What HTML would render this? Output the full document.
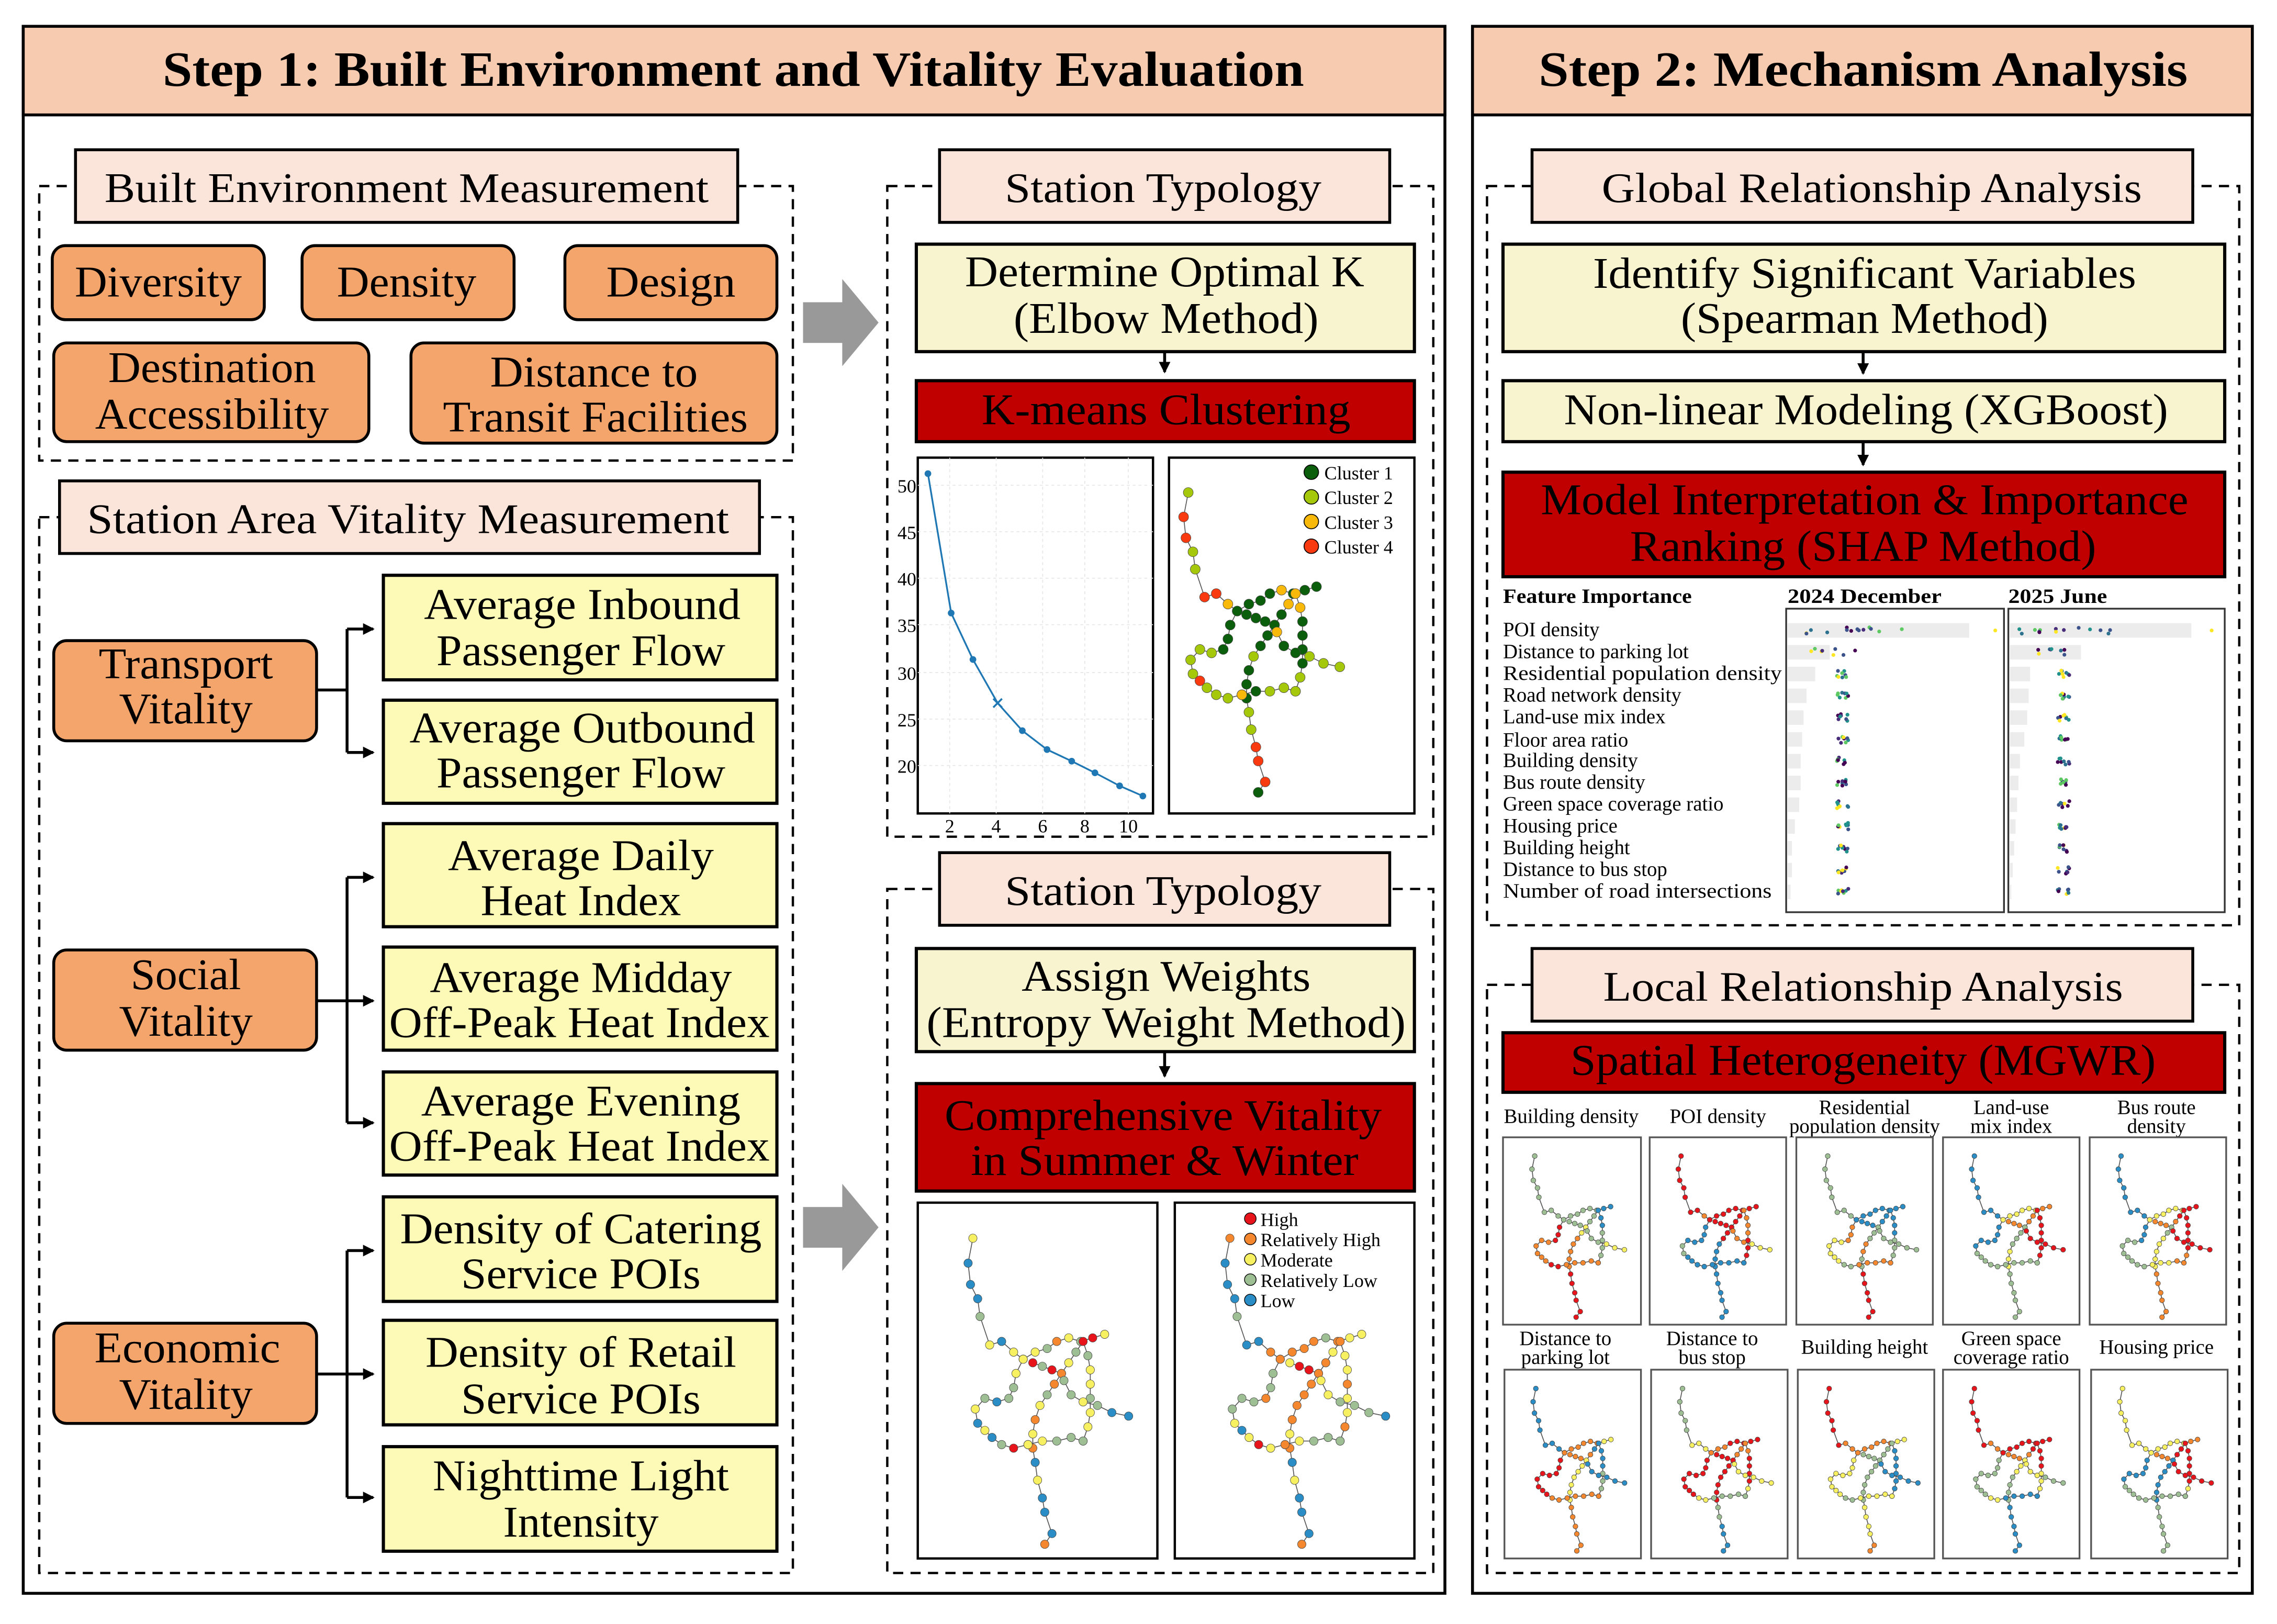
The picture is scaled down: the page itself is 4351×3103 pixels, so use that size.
<!DOCTYPE html>
<html><head><meta charset="utf-8">
<style>html,body{margin:0;padding:0;background:#fff}svg{display:block}
text{font-family:"Liberation Serif",serif;fill:#000}</style></head>
<body>
<svg id="s" xmlns="http://www.w3.org/2000/svg" width="4351" height="3103" viewBox="0 0 1568 1118">
<defs>
<marker id="ah" markerWidth="8" markerHeight="8" refX="7" refY="4" orient="auto" markerUnits="userSpaceOnUse"><path d="M0,0 L8,4 L0,8 z" fill="#000"/></marker>
</defs>
<rect width="1568" height="1118" fill="#fff"/>
<rect x="16" y="18" width="979" height="1079" fill="#fff" stroke="#000" stroke-width="2"/>
<rect x="16" y="18" width="979" height="61" fill="#f7cbb0" stroke="#000" stroke-width="2"/>
<text x="505" y="59" text-anchor="middle" font-size="34" font-weight="bold" textLength="786" lengthAdjust="spacingAndGlyphs">Step 1: Built Environment and Vitality Evaluation</text>
<rect x="1014" y="18" width="537" height="1079" fill="#fff" stroke="#000" stroke-width="2"/>
<rect x="1014" y="18" width="537" height="61" fill="#f7cbb0" stroke="#000" stroke-width="2"/>
<text x="1283" y="59" text-anchor="middle" font-size="34" font-weight="bold" textLength="447" lengthAdjust="spacingAndGlyphs">Step 2: Mechanism Analysis</text>

<g fill="none" stroke="#000" stroke-width="1.6" stroke-dasharray="7,5">
<rect x="27" y="128" width="519" height="189"/>
<rect x="27" y="356" width="519" height="727"/>
<rect x="611" y="128" width="376" height="448"/>
<rect x="611" y="612" width="376" height="471"/>
<rect x="1024" y="128" width="518" height="509"/>
<rect x="1024" y="678" width="518" height="405"/>
</g>
<g fill="#fbe4da" stroke="#000" stroke-width="2">
<rect x="52" y="103" width="456" height="50"/>
<rect x="41" y="331" width="482" height="50"/>
<rect x="647" y="103" width="310" height="50"/>
<rect x="647" y="587" width="310" height="50"/>
<rect x="1055" y="103" width="455" height="50"/>
<rect x="1055" y="653" width="455" height="50"/>
</g>
<g font-size="29" text-anchor="middle">
<text x="280" y="139" textLength="416" lengthAdjust="spacingAndGlyphs">Built Environment Measurement</text>
<text x="281" y="367" textLength="442" lengthAdjust="spacingAndGlyphs">Station Area Vitality Measurement</text>
<text x="801" y="139" textLength="218" lengthAdjust="spacingAndGlyphs">Station Typology</text>
<text x="801" y="623" textLength="218" lengthAdjust="spacingAndGlyphs">Station Typology</text>
<text x="1289" y="139" textLength="372" lengthAdjust="spacingAndGlyphs">Global Relationship Analysis</text>
<text x="1283" y="689" textLength="358" lengthAdjust="spacingAndGlyphs">Local Relationship Analysis</text>
</g>

<g fill="#f3a56c" stroke="#000" stroke-width="2">
<rect x="36" y="169" width="146" height="51" rx="9"/>
<rect x="208" y="169" width="146" height="51" rx="9"/>
<rect x="389" y="169" width="146" height="51" rx="9"/>
<rect x="37" y="236" width="217" height="68" rx="9"/>
<rect x="283" y="236" width="252" height="69" rx="9"/>
<rect x="37" y="441" width="181" height="69" rx="9"/>
<rect x="37" y="654" width="181" height="69" rx="9"/>
<rect x="37" y="911" width="181" height="69" rx="9"/>
</g>
<g font-size="30" text-anchor="middle">
<text x="109" y="204" textLength="115" lengthAdjust="spacingAndGlyphs">Diversity</text>
<text x="280" y="204" textLength="96" lengthAdjust="spacingAndGlyphs">Density</text>
<text x="462" y="204" textLength="89" lengthAdjust="spacingAndGlyphs">Design</text>
<text x="146" y="263" textLength="143" lengthAdjust="spacingAndGlyphs">Destination</text>
<text x="146" y="295" textLength="161" lengthAdjust="spacingAndGlyphs">Accessibility</text>
<text x="409" y="266" textLength="143" lengthAdjust="spacingAndGlyphs">Distance to</text>
<text x="410" y="297" textLength="210" lengthAdjust="spacingAndGlyphs">Transit Facilities</text>
<text x="128" y="467" textLength="120" lengthAdjust="spacingAndGlyphs">Transport</text>
<text x="128" y="498" textLength="92" lengthAdjust="spacingAndGlyphs">Vitality</text>
<text x="128" y="681" textLength="76" lengthAdjust="spacingAndGlyphs">Social</text>
<text x="128" y="713" textLength="92" lengthAdjust="spacingAndGlyphs">Vitality</text>
<text x="129" y="938" textLength="128" lengthAdjust="spacingAndGlyphs">Economic</text>
<text x="128" y="970" textLength="92" lengthAdjust="spacingAndGlyphs">Vitality</text>
</g>

<g fill="#fdf9b6" stroke="#000" stroke-width="2.2">
<rect x="264" y="396" width="271" height="72"/>
<rect x="264" y="482" width="271" height="71"/>
<rect x="264" y="567" width="271" height="71"/>
<rect x="264" y="652" width="271" height="71"/>
<rect x="264" y="738" width="271" height="71"/>
<rect x="264" y="824" width="271" height="72"/>
<rect x="264" y="909" width="271" height="72"/>
<rect x="264" y="996" width="271" height="72"/>
</g>
<g font-size="30" text-anchor="middle">
<text x="401" y="426" textLength="218" lengthAdjust="spacingAndGlyphs">Average Inbound</text>
<text x="400" y="458" textLength="199" lengthAdjust="spacingAndGlyphs">Passenger Flow</text>
<text x="401" y="511" textLength="238" lengthAdjust="spacingAndGlyphs">Average Outbound</text>
<text x="400" y="542" textLength="199" lengthAdjust="spacingAndGlyphs">Passenger Flow</text>
<text x="400" y="599" textLength="183" lengthAdjust="spacingAndGlyphs">Average Daily</text>
<text x="400" y="630" textLength="138" lengthAdjust="spacingAndGlyphs">Heat Index</text>
<text x="400" y="683" textLength="208" lengthAdjust="spacingAndGlyphs">Average Midday</text>
<text x="399" y="714" textLength="262" lengthAdjust="spacingAndGlyphs">Off-Peak Heat Index</text>
<text x="400" y="768" textLength="220" lengthAdjust="spacingAndGlyphs">Average Evening</text>
<text x="399" y="799" textLength="262" lengthAdjust="spacingAndGlyphs">Off-Peak Heat Index</text>
<text x="400" y="856" textLength="249" lengthAdjust="spacingAndGlyphs">Density of Catering</text>
<text x="400" y="887" textLength="165" lengthAdjust="spacingAndGlyphs">Service POIs</text>
<text x="400" y="941" textLength="214" lengthAdjust="spacingAndGlyphs">Density of Retail</text>
<text x="400" y="973" textLength="165" lengthAdjust="spacingAndGlyphs">Service POIs</text>
<text x="400" y="1026" textLength="204" lengthAdjust="spacingAndGlyphs">Nighttime Light</text>
<text x="400" y="1058" textLength="107" lengthAdjust="spacingAndGlyphs">Intensity</text>
</g>
<g fill="none" stroke="#000" stroke-width="2">
<path d="M218,475 H239"/><path d="M239,433 V518"/>
<path d="M239,433 H257" marker-end="url(#ah)"/><path d="M239,518 H257" marker-end="url(#ah)"/>
<path d="M218,689 H257" marker-end="url(#ah)"/><path d="M239,604 V773"/>
<path d="M239,604 H257" marker-end="url(#ah)"/><path d="M239,773 H257" marker-end="url(#ah)"/>
<path d="M218,946 H257" marker-end="url(#ah)"/><path d="M239,861 V1031"/>
<path d="M239,861 H257" marker-end="url(#ah)"/><path d="M239,1031 H257" marker-end="url(#ah)"/>
<path d="M802,242 V256" marker-end="url(#ah)"/>
<path d="M802,724 V741" marker-end="url(#ah)"/>
<path d="M1283,242 V257" marker-end="url(#ah)"/>
<path d="M1283,304 V320" marker-end="url(#ah)"/>
</g>
<path d="M553,208 H580 V192 L605,222 L580,252 V236 H553 Z" fill="#999"/>
<path d="M553,831 H580 V815 L605,845 L580,875 V859 H553 Z" fill="#999"/>

<g fill="#f9f4d0" stroke="#000" stroke-width="2.2">
<rect x="631" y="168" width="343" height="74"/>
<rect x="631" y="653" width="343" height="71"/>
<rect x="1035" y="168" width="497" height="74"/>
<rect x="1035" y="262" width="497" height="42"/>
</g>
<g fill="#c00000" stroke="#000" stroke-width="2.2">
<rect x="631" y="262" width="343" height="42"/>
<rect x="631" y="746" width="343" height="74"/>
<rect x="1035" y="325" width="497" height="72"/>
<rect x="1035" y="711" width="497" height="41"/>
</g>
<g font-size="30" text-anchor="middle">
<text x="802" y="197" textLength="275" lengthAdjust="spacingAndGlyphs">Determine Optimal K</text>
<text x="803" y="229" textLength="210" lengthAdjust="spacingAndGlyphs">(Elbow Method)</text>
<text x="803" y="682" textLength="199" lengthAdjust="spacingAndGlyphs">Assign Weights</text>
<text x="803" y="714" textLength="330" lengthAdjust="spacingAndGlyphs">(Entropy Weight Method)</text>
<text x="1284" y="198" textLength="374" lengthAdjust="spacingAndGlyphs">Identify Significant Variables</text>
<text x="1284" y="229" textLength="253" lengthAdjust="spacingAndGlyphs">(Spearman Method)</text>
<text x="1285" y="292" textLength="416" lengthAdjust="spacingAndGlyphs">Non-linear Modeling (XGBoost)</text>
</g>
<g font-size="30" text-anchor="middle" style="fill:#fff">
<text x="803" y="292" textLength="254" lengthAdjust="spacingAndGlyphs" fill="#fff">K-means Clustering</text>
<text x="801" y="778" textLength="301" lengthAdjust="spacingAndGlyphs" fill="#fff">Comprehensive Vitality</text>
<text x="802" y="809" textLength="267" lengthAdjust="spacingAndGlyphs" fill="#fff">in Summer &amp; Winter</text>
<text x="1284" y="354" textLength="446" lengthAdjust="spacingAndGlyphs" fill="#fff">Model Interpretation &amp; Importance</text>
<text x="1283" y="386" textLength="321" lengthAdjust="spacingAndGlyphs" fill="#fff">Ranking (SHAP Method)</text>
<text x="1283" y="740" textLength="403" lengthAdjust="spacingAndGlyphs" fill="#fff">Spatial Heterogeneity (MGWR)</text>
</g>

<rect x="632" y="315" width="162" height="245" fill="#fff" stroke="#000" stroke-width="1.6"/>
<g stroke="#e6e6e6" stroke-width="0.6" stroke-dasharray="2,2">
<path d="M632,334H794M632,366H794M632,398H794M632,430H794M632,463H794M632,495H794M632,527H794"/>
<path d="M654,315V560M686,315V560M718,315V560M747,315V560M777,315V560"/>
</g>
<g font-size="13" text-anchor="end">
<text x="631" y="339">50</text><text x="631" y="371">45</text><text x="631" y="403">40</text><text x="631" y="435">35</text><text x="631" y="468">30</text><text x="631" y="500">25</text><text x="631" y="532">20</text>
</g>
<g font-size="13" text-anchor="middle">
<text x="654" y="573">2</text><text x="686" y="573">4</text><text x="718" y="573">6</text><text x="747" y="573">8</text><text x="777" y="573">10</text>
</g>
<polyline fill="none" stroke="#1f77b4" stroke-width="1.2" points="639,326 655,422 670,454 687,484 704,503 721,516 738,524 754,532 771,541 787,548"/>
<g fill="#1f77b4"><circle cx="639" cy="326" r="2.3"/><circle cx="655" cy="422" r="2.3"/><circle cx="670" cy="454" r="2.3"/><circle cx="704" cy="503" r="2.3"/><circle cx="721" cy="516" r="2.3"/><circle cx="738" cy="524" r="2.3"/><circle cx="754" cy="532" r="2.3"/><circle cx="771" cy="541" r="2.3"/><circle cx="787" cy="548" r="2.3"/></g>
<path d="M684,481 L690,487 M690,481 L684,487" stroke="#1f77b4" stroke-width="1.3"/>

<g fill="#fff" stroke="#000" stroke-width="1.6">
<rect x="805" y="315" width="169" height="245"/>
<rect x="632" y="828" width="165" height="245"/>
<rect x="809" y="828" width="165" height="245"/>
</g>
<g id="maps"></g>
<g font-size="13">
<circle cx="903" cy="325" r="5" fill="#0b5e0b" stroke="#000" stroke-width="0.6"/><text x="912" y="330">Cluster 1</text>
<circle cx="903" cy="342" r="5" fill="#a6c80a" stroke="#000" stroke-width="0.6"/><text x="912" y="347">Cluster 2</text>
<circle cx="903" cy="359" r="5" fill="#f9b90b" stroke="#000" stroke-width="0.6"/><text x="912" y="364">Cluster 3</text>
<circle cx="903" cy="376" r="5" fill="#f93a10" stroke="#000" stroke-width="0.6"/><text x="912" y="381">Cluster 4</text>
</g>
<g font-size="13">
<circle cx="861" cy="839" r="4" fill="#e8141b" stroke="#000" stroke-width="0.5"/><text x="868" y="844">High</text>
<circle cx="861" cy="853" r="4" fill="#f5882f" stroke="#000" stroke-width="0.5"/><text x="868" y="858">Relatively High</text>
<circle cx="861" cy="867" r="4" fill="#f7f060" stroke="#000" stroke-width="0.5"/><text x="868" y="872">Moderate</text>
<circle cx="861" cy="881" r="4" fill="#9ebf94" stroke="#000" stroke-width="0.5"/><text x="868" y="886">Relatively Low</text>
<circle cx="861" cy="895" r="4" fill="#2a8dc5" stroke="#000" stroke-width="0.5"/><text x="868" y="900">Low</text>
</g>

<g font-size="14" font-weight="bold">
<text x="1035" y="415" textLength="130" lengthAdjust="spacingAndGlyphs">Feature Importance</text>
<text x="1231" y="415" textLength="106" lengthAdjust="spacingAndGlyphs">2024 December</text>
<text x="1383" y="415" textLength="68" lengthAdjust="spacingAndGlyphs">2025 June</text>
</g>
<g font-size="14">
<text x="1035" y="438">POI density</text>
<text x="1035" y="453">Distance to parking lot</text>
<text x="1035" y="468" textLength="192" lengthAdjust="spacingAndGlyphs">Residential population density</text>
<text x="1035" y="483">Road network density</text>
<text x="1035" y="498">Land-use mix index</text>
<text x="1035" y="514">Floor area ratio</text>
<text x="1035" y="528">Building density</text>
<text x="1035" y="543">Bus route density</text>
<text x="1035" y="558">Green space coverage ratio</text>
<text x="1035" y="573">Housing price</text>
<text x="1035" y="588">Building height</text>
<text x="1035" y="603">Distance to bus stop</text>
<text x="1035" y="618" textLength="185" lengthAdjust="spacingAndGlyphs">Number of road intersections</text>
</g>
<rect x="1230" y="419" width="150" height="209" fill="#fff" stroke="#333" stroke-width="1.2"/>
<rect x="1383" y="419" width="149" height="209" fill="#fff" stroke="#333" stroke-width="1.2"/>
<g id="shap"></g>

<g font-size="14" text-anchor="middle">
<text x="1082" y="773">Building density</text>
<text x="1183" y="773">POI density</text>
<text x="1284" y="767">Residential</text><text x="1284" y="780">population density</text>
<text x="1385" y="767">Land-use</text><text x="1385" y="780">mix index</text>
<text x="1485" y="767">Bus route</text><text x="1485" y="780">density</text>
<text x="1078" y="926">Distance to</text><text x="1078" y="939">parking lot</text>
<text x="1179" y="926">Distance to</text><text x="1179" y="939">bus stop</text>
<text x="1284" y="932">Building height</text>
<text x="1385" y="926">Green space</text><text x="1385" y="939">coverage ratio</text>
<text x="1485" y="932">Housing price</text>
</g>
<g fill="#fff" stroke="#555" stroke-width="1.2">
<rect x="1035" y="783" width="95" height="129"/><rect x="1136" y="783" width="94" height="129"/><rect x="1237" y="783" width="94" height="129"/><rect x="1338" y="783" width="94" height="129"/><rect x="1439" y="783" width="94" height="129"/>
<rect x="1036" y="943" width="94" height="130"/><rect x="1137" y="943" width="94" height="130"/><rect x="1238" y="943" width="94" height="130"/><rect x="1338" y="943" width="94" height="130"/><rect x="1440" y="943" width="94" height="130"/>
</g>
<g id="mg"></g>
</svg>
<script>
(function(){
var NS="http://www.w3.org/2000/svg";
var C={R:"#e8141b",O:"#f5882f",Y:"#f7f060",G:"#9ebf94",B:"#2a8dc5",D:"#0b5e0b",L:"#a6c80a",A:"#f9b90b",Q:"#f93a10"};
var lines={
N:[[.23,.10],[.21,.17],[.22,.23],[.25,.27],[.26,.32],[.30,.40],[.35,.39],[.40,.42],[.44,.44]],
L:[[.44,.44],[.41,.48],[.40,.52],[.38,.55],[.33,.56],[.28,.55],[.24,.58],[.25,.62],[.28,.64],[.31,.66],[.35,.68],[.40,.69],[.46,.68]],
U:[[.44,.44],[.49,.42],[.54,.41],[.58,.39],[.63,.38],[.68,.39],[.73,.38],[.78,.37]],
X:[[.48,.45],[.52,.46],[.56,.47],[.60,.48],[.63,.45],[.66,.42],[.69,.39],[.71,.43],[.72,.47],[.72,.51],[.72,.55],[.72,.59],[.71,.63],[.69,.67]],
M:[[.60,.48],[.57,.51],[.54,.54],[.51,.57],[.49,.61],[.48,.65],[.48,.69]],
S:[[.46,.68],[.52,.67],[.58,.67],[.64,.66],[.69,.67],[.49,.73],[.50,.78],[.52,.83],[.53,.87],[.56,.93],[.53,.96]],
R:[[.61,.50],[.64,.54],[.69,.56],[.75,.57],[.81,.59],[.88,.60]]
};
var lineOrder=["N","L","U","X","M","S","R"];
function draw(g,x,y,w,h,col,r,tf){
 tf=tf||function(q){return q;};
 function P(q){var t=tf(q);return (x+t[0]*w)+","+(y+t[1]*h);}
 for(var i=0;i<lineOrder.length;i++){var k=lineOrder[i],p=lines[k];
  var pts=p.filter(function(q,j){return !(k=="S"&&j<5)}).map(P).join(" ");
  if(k=="S"){var p0=p.slice(0,5).map(P).join(" ");
   var pl0=document.createElementNS(NS,"polyline");pl0.setAttribute("points",p0);pl0.setAttribute("fill","none");pl0.setAttribute("stroke","#555");pl0.setAttribute("stroke-width","0.6");g.appendChild(pl0);
   pts=P([.48,.69])+" "+pts;}
  var pl=document.createElementNS(NS,"polyline");pl.setAttribute("points",pts);pl.setAttribute("fill","none");pl.setAttribute("stroke","#555");pl.setAttribute("stroke-width","0.6");g.appendChild(pl);}
 for(var i=0;i<lineOrder.length;i++){var k=lineOrder[i],p=lines[k];
  for(var j=0;j<p.length;j++){var c=col(k,j,p[j]);var t=tf(p[j]);
   var ci=document.createElementNS(NS,"circle");ci.setAttribute("cx",x+t[0]*w);ci.setAttribute("cy",y+t[1]*h);ci.setAttribute("r",r);ci.setAttribute("fill",C[c]||c);ci.setAttribute("stroke","#444");ci.setAttribute("stroke-width","0.3");g.appendChild(ci);}}
}
var maps=document.getElementById("maps");
draw(maps,805,315,169,245,function(k,j){
 var m={N:"LQQLLQQAD",L:"DDDDLLLLQLLL",U:"DDDDADDD",X:"DDDDDAAADDDDLL",M:"DDDLDDD",S:"ADLLLLLQQQD",R:"ADDLLL"};return m[k][j]||"D";},3.4,
 function(q){return [0.95*(q[0]-0.2)+0.05, q[1]*0.98+0.0];});
draw(maps,632,828,165,245,function(k,j){
 var m={N:"YBBBGYBYG",L:"GYGGBGYBYBGRG",U:"YYGOYGRYGG",X:"RGROYGRGYYGYYY",M:"OOGYOYO",S:"YYGGGBYBBBO",R:"GGYGBB"};return m[k][j]||"Y";},2.9);
draw(maps,809,828,165,245,function(k,j){
 var m={N:"OBBBGBBOY",L:"YGGOGGGYBYRYO",U:"OOOOGOYY",X:"YRRGOYOYYOYYOY",M:"OOOOOYO",S:"OYGGGBYBBBO",R:"YYGGGB"};return m[k][j]||"Y";},2.9);
var mg=document.getElementById("mg");
var specs=[
 [1035,783,95,129,{N:"G",L:"ROOR",U:"GGB",X:"GGGBBGGY",M:"YOOO",S:"OORRR",R:"GY"}],
 [1136,783,94,129,{N:"RRRO",L:"BBGBB",U:"RR",X:"RRROORR",M:"RBB",S:"BBBBB",R:"OY"}],
 [1237,783,94,129,{N:"G",L:"OYYG",U:"BB",X:"BBBBGG",M:"GOG",S:"OORRR",R:"GG"}],
 [1338,783,94,129,{N:"B",L:"BBGG",U:"YYO",X:"OOORRRRO",M:"GGYY",S:"GGGGG",R:"RR"}],
 [1439,783,94,129,{N:"B",L:"BGGG",U:"YYR",X:"OORRRO",M:"GYYY",S:"YOOO",R:"RR"}],
 [1036,943,94,130,{N:"B",L:"RRRO",U:"OOY",X:"OOBBGG",M:"YYY",S:"OOOOO",R:"BB"}],
 [1137,943,94,130,{N:"GY",L:"RRRY",U:"ORR",X:"RROORRY",M:"RRR",S:"GGGBB",R:"Y"}],
 [1238,943,94,130,{N:"RRO",L:"YYYG",U:"OOY",X:"GGGBBB",M:"GGG",S:"YYYYO",R:"BB"}],
 [1338,943,94,130,{N:"RRO",L:"GGGY",U:"RRR",X:"OORRYY",M:"YGG",S:"BBBBB",R:"YG"}],
 [1440,943,94,130,{N:"Y",L:"BBGG",U:"YYO",X:"ORRRRY",M:"BBB",S:"GGGG",R:"RR"}]
];
specs.forEach(function(s){var m=s[4];draw(mg,s[0],s[1],s[2],s[3],function(k,j,q){var a=m[k];return a[Math.min(a.length-1,Math.floor(j*a.length/lines[k].length))];},1.7);});
var sh=document.getElementById("shap");
var vir=["#440154","#3b528b","#21918c","#5ec962","#fde725","#472c7a","#2c728e"];
function rect(x,y,w,h,f){var r=document.createElementNS(NS,"rect");r.setAttribute("x",x);r.setAttribute("y",y);r.setAttribute("width",w);r.setAttribute("height",h);r.setAttribute("fill",f);sh.appendChild(r);}
function dot(x,y,c){var ci=document.createElementNS(NS,"circle");ci.setAttribute("cx",x);ci.setAttribute("cy",y);ci.setAttribute("r",1.3);ci.setAttribute("fill",c);sh.appendChild(ci);}
var b1=[125,29,19,13,11,10,9,9,8,5,3,3,2],b2=[125,49,14,13,12,10,7,6,5,4,3,2,1];
var seed=7;function rnd(){seed=(seed*9301+49297)%233280;return seed/233280;}
for(var i=0;i<13;i++){var y=434+i*15;
 rect(1231,y-5,b1[i],10,"#ececec");rect(1384,y-5,b2[i],10,"#ececec");
 var n=i==0?14:8;
 for(var k=0;k<n;k++){var dx=i==0?(rnd()*75):(i==1?(rnd()*34):(rnd()*8));dot((i==0?1238:(i==1?1247:1265))+dx,y+(rnd()-0.5)*5,vir[Math.floor(rnd()*7)]);
  var dx2=i==0?(rnd()*65):(i==1?(rnd()*26):(rnd()*8));dot((i==0?1389:(i==1?1400:1417))+dx2,y+(rnd()-0.5)*5,vir[Math.floor(rnd()*7)]);}
}
dot(1374,434,"#fde725");dot(1523,434,"#fde725");
})();
</script>
</body></html>
